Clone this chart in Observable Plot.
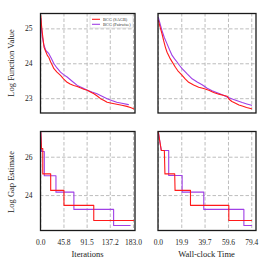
<!DOCTYPE html>
<html><head><meta charset="utf-8">
<script src="https://cdn.jsdelivr.net/npm/d3@7"></script>
<script src="https://cdn.jsdelivr.net/npm/@observablehq/plot@0.6"></script>
<style>
body{margin:0;background:#fff}
#root{position:relative;width:270px;height:270px;font-family:"Liberation Serif",serif;overflow:hidden}
#root svg{position:absolute;left:0;top:0}
</style></head><body><div id="root"></div>
<script>
// ---- data ----
const seriesNames = ["BCG (SAGB)", "BCG (Pairwise)"];
const seriesColors = ["#ff1a1a", "#a040e6"];

const iterTicks = [0, 45.8, 91.5, 137.2, 183.0];
const timeTicks = [0, 19.9, 39.7, 59.6, 79.4];
const fvalTicks = [23, 24, 25];
const gapTicks = [24, 26];

// Log function value vs iterations
const fIterRedX = [0, 1.5, 3.3, 6.5, 9, 13, 16, 19.6, 23, 26, 32, 39, 45, 52, 58, 65, 72, 78, 85, 92, 98, 105, 112, 118, 125, 131, 140, 150, 160, 170, 177, 183];
const fIterRedY = [25.38, 25.1, 24.86, 24.47, 24.38, 24.24, 24.18, 24.05, 23.95, 23.86, 23.76, 23.67, 23.57, 23.47, 23.42, 23.38, 23.35, 23.31, 23.27, 23.24, 23.19, 23.14, 23.07, 23.0, 22.95, 22.9, 22.87, 22.84, 22.81, 22.78, 22.75, 22.71];
const fIterPurX = [0, 1.5, 3, 6, 10, 16, 21, 26, 32, 39, 45, 52, 62, 72, 82, 92, 101, 111, 121, 131, 140, 150, 160, 173];
const fIterPurY = [25.3, 25.0, 24.78, 24.55, 24.38, 24.29, 24.15, 24.0, 23.88, 23.76, 23.69, 23.62, 23.5, 23.38, 23.31, 23.24, 23.19, 23.14, 23.07, 23.0, 22.95, 22.9, 22.87, 22.83];

// Log function value vs wall-clock time
const fTimeRedX = [0, 1.5, 3.1, 4.5, 6, 7.4, 10.2, 14.5, 17, 20.2, 23, 25.8, 30, 34.3, 38.5, 42.9, 47, 51.4, 55, 58.5, 59.9, 62.5, 65.6, 68.5, 71.3, 75, 79.2];
const fTimeRedY = [25.24, 25.05, 24.86, 24.66, 24.47, 24.33, 24.14, 23.9, 23.78, 23.67, 23.56, 23.47, 23.39, 23.33, 23.29, 23.24, 23.18, 23.13, 23.1, 23.07, 22.99, 22.92, 22.87, 22.82, 22.79, 22.75, 22.71];
const fTimePurX = [0, 1.5, 3.1, 5, 7.4, 9.5, 11.7, 13.8, 15.9, 18, 20.2, 24.5, 28.7, 33, 37.2, 41.5, 45.7, 50, 54.3, 58.5, 62.8, 67, 71.3, 75.2, 79.2];
const fTimePurY = [25.33, 25.14, 24.95, 24.76, 24.57, 24.4, 24.24, 24.14, 24.05, 23.95, 23.86, 23.71, 23.57, 23.48, 23.4, 23.3, 23.23, 23.17, 23.11, 23.05, 22.99, 22.94, 22.89, 22.85, 22.81];

// Log gap estimate vs iterations
const gIterRedX = [0, 1.5, 4, 4, 19.6, 19.6, 45.8, 45.8, 104.6, 104.6, 183];
const gIterRedY = [27.3, 26.45, 26.45, 25.13, 25.13, 24.27, 24.27, 23.49, 23.49, 22.7, 22.7];
const gIterPurX = [0, 1.5, 7, 7, 30, 30, 65.4, 65.4, 143.8, 143.8, 176.5];
const gIterPurY = [27.3, 26.3, 26.3, 25.03, 25.03, 24.18, 24.18, 23.28, 23.28, 22.44, 22.44];

// Log gap estimate vs wall-clock time
const gTimeRedX = [0, 2.5, 5.1, 5.6, 13.9, 14.2, 27.3, 27.3, 59.9, 59.9, 79.2];
const gTimeRedY = [27.3, 26.35, 26.35, 25.13, 25.13, 24.27, 24.27, 23.49, 23.49, 22.7, 22.7];
const gTimePurX = [0, 2.5, 8.8, 8.8, 20.2, 20.2, 38.6, 38.6, 72.7, 72.7, 79.2];
const gTimePurY = [27.3, 26.35, 26.35, 25.05, 25.05, 24.18, 24.18, 23.28, 23.28, 22.44, 22.44];

// ---- drawing ----
const root = document.getElementById("root");
const toRows = (xs, ys) => xs.map((x, i) => ({x, y: ys[i]}));
const fmt = d3.format(".1f");

function panel({box, xDomain, xTicks, yDomain, yTicks, showX, showY, red, pur}) {
  const [x0, x1, y0, y1] = box;
  const p = Plot.plot({
    width: 270, height: 270,
    marginLeft: x0, marginRight: 270 - x1, marginTop: y0, marginBottom: 270 - y1,
    style: {background: "transparent", fontFamily: "'Liberation Serif', serif", fontSize: "7.5px", color: "#222", overflow: "visible"},
    x: {domain: xDomain, ticks: xTicks, tickFormat: fmt, tickSize: 0, tickPadding: 9,
        axis: showX ? "bottom" : null, label: null},
    y: {domain: yDomain, ticks: yTicks, tickFormat: d => String(d), tickSize: 0, tickPadding: 8,
        axis: showY ? "left" : null, label: null},
    marks: [
      Plot.ruleX(xTicks, {stroke: "#b5b5b5", strokeWidth: 0.9, strokeDasharray: "3.5,2"}),
      Plot.ruleY(yTicks, {stroke: "#b5b5b5", strokeWidth: 0.9, strokeDasharray: "3.5,2"}),
      Plot.line(toRows(pur[0], pur[1]), {x: "x", y: "y", stroke: seriesColors[1], strokeWidth: 1.1}),
      Plot.line(toRows(red[0], red[1]), {x: "x", y: "y", stroke: seriesColors[0], strokeWidth: 1.1}),
      Plot.frame({stroke: "#1a1a1a", strokeWidth: 1.3})
    ]
  });
  root.appendChild(p);
}

const L = [40, 134.5], R = [157.5, 255.5], T = [13, 112.5], B = [131, 230];
const iterDom = [-0.5, 186], timeDom = [-0.3, 83];
const fDom = [22.59, 25.44], gDom = [22.18, 27.34];

panel({box: [...L, ...T], xDomain: iterDom, xTicks: iterTicks, yDomain: fDom, yTicks: fvalTicks, showX: false, showY: true,
  red: [fIterRedX, fIterRedY], pur: [fIterPurX, fIterPurY]});
panel({box: [...R, ...T], xDomain: timeDom, xTicks: timeTicks, yDomain: fDom, yTicks: fvalTicks, showX: false, showY: false,
  red: [fTimeRedX, fTimeRedY], pur: [fTimePurX, fTimePurY]});
panel({box: [...L, ...B], xDomain: iterDom, xTicks: iterTicks, yDomain: gDom, yTicks: gapTicks, showX: true, showY: true,
  red: [gIterRedX, gIterRedY], pur: [gIterPurX, gIterPurY]});
panel({box: [...R, ...B], xDomain: timeDom, xTicks: timeTicks, yDomain: gDom, yTicks: gapTicks, showX: true, showY: false,
  red: [gTimeRedX, gTimeRedY], pur: [gTimePurX, gTimePurY]});

// axis titles and legend
const ov = d3.select(root).append("svg").attr("width", 270).attr("height", 270)
  .attr("font-family", "'Liberation Serif', serif").attr("fill", "#222");
const title = (x, y, rot, s) => ov.append("text").attr("transform", `translate(${x},${y}) rotate(${rot})`)
  .attr("text-anchor", "middle").attr("dominant-baseline", "middle").attr("font-size", 8.5).text(s);
title(12.5, 63, -90, "Log Function Value");
title(12.5, 182, -90, "Log Gap Estimate");
title(87.5, 255, 0, "Iterations");
title(206.5, 255, 0, "Wall-clock Time");

const g = ov.append("g").attr("transform", "translate(90,15)");
g.append("rect").attr("width", 43).attr("height", 13).attr("rx", 1).attr("fill", "white").attr("fill-opacity", 0.85).attr("stroke", "#d0d0d0").attr("stroke-width", 0.6);
seriesNames.forEach((name, i) => {
  const y = 4.3 + i * 5;
  g.append("line").attr("x1", 2).attr("x2", 10).attr("y1", y).attr("y2", y).attr("stroke", seriesColors[i]).attr("stroke-width", 1.1);
  g.append("text").attr("x", 13).attr("y", y + 1.5).attr("font-size", 4.3).attr("fill", "#333").text(name);
});
</script></body></html>
